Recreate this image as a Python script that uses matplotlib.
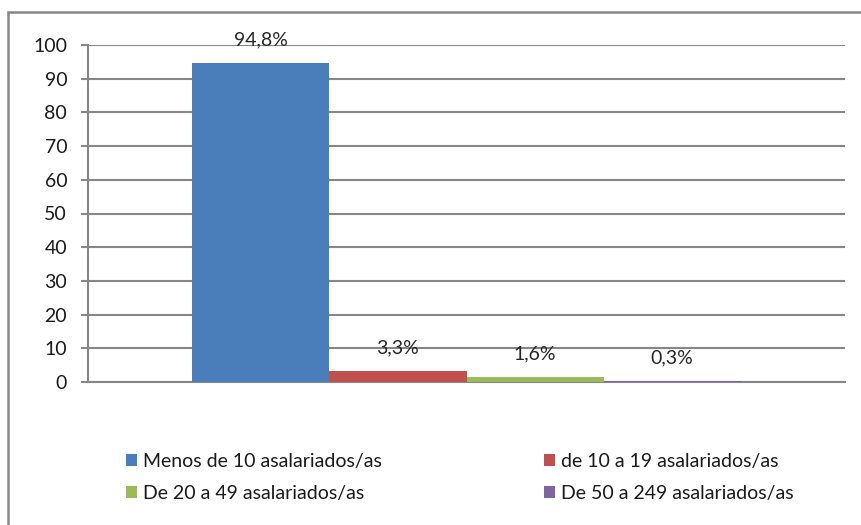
import matplotlib.pyplot as plt
from matplotlib.patches import Rectangle, Patch

# --- datos ---
categorias = ["Menos de 10 asalariados/as", "de 10 a 19 asalariados/as",
              "De 20 a 49 asalariados/as", "De 50 a 249 asalariados/as"]
valores = [94.8, 3.3, 1.6, 0.3]
etiquetas = ["94,8%", "3,3%", "1,6%", "0,3%"]
colores = ["#4a7ebb", "#c0504d", "#9bbb59", "#8064a2"]
ticks_y = [0, 10, 20, 30, 40, 50, 60, 70, 80, 90, 100]

plt.rcParams['font.family'] = ['Lato', 'DejaVu Sans']
fs = 14
W, H = 861, 525
fig = plt.figure(figsize=(W / 100, H / 100), dpi=100)
ax = fig.add_axes([88 / W, 1 - 382 / H, (845 - 88) / W, (382 - 45) / H])

# borde exterior del gráfico
fig.patches.append(Rectangle((8 / W, -0.1), 1.2, 1 - 12 / H + 0.1, transform=fig.transFigure,
                             fill=False, edgecolor="#878787", linewidth=1.8))

ancho = 0.181
grupo = ancho * len(valores)
x0 = -grupo / 2 + ancho / 2
for i, (v, c, lab) in enumerate(zip(valores, colores, etiquetas)):
    x = x0 + i * ancho
    ax.bar(x, v, width=ancho, color=c, zorder=3)
    ax.annotate(lab, (x, v), xytext=(0, 10.5), textcoords="offset points",
                ha="center", va="bottom", fontsize=fs, color="#262626")

ax.set_xlim(-0.5, 0.5)
ax.set_ylim(0, 100)
ax.set_yticks(ticks_y)
ax.set_xticks([])
ax.tick_params(axis="y", length=5, width=1.5, color="#868686", labelsize=fs,
               labelcolor="#1a1a1a", pad=10)
ax.grid(axis="y", color="#868686", linewidth=1.5, zorder=0)
for s in ["top", "right"]:
    ax.spines[s].set_visible(False)
for s in ["left", "bottom"]:
    ax.spines[s].set_color("#868686")
    ax.spines[s].set_linewidth(1.5)

# leyenda en dos columnas (orden por filas)
handles = [Patch(facecolor=c, label=n) for c, n in zip(colores, categorias)]
orden = [0, 2, 1, 3]
fig.legend([handles[i] for i in orden], [categorias[i] for i in orden],
           ncol=2, loc="upper left", bbox_to_anchor=(116 / W, 1 - 443 / H),
           frameon=False, fontsize=fs, handlelength=0.57, handleheight=0.57,
           handletextpad=0.3, columnspacing=8.36, labelspacing=0.78, borderpad=0,
           labelcolor="#1a1a1a")

fig.savefig("out.png", dpi=100)
